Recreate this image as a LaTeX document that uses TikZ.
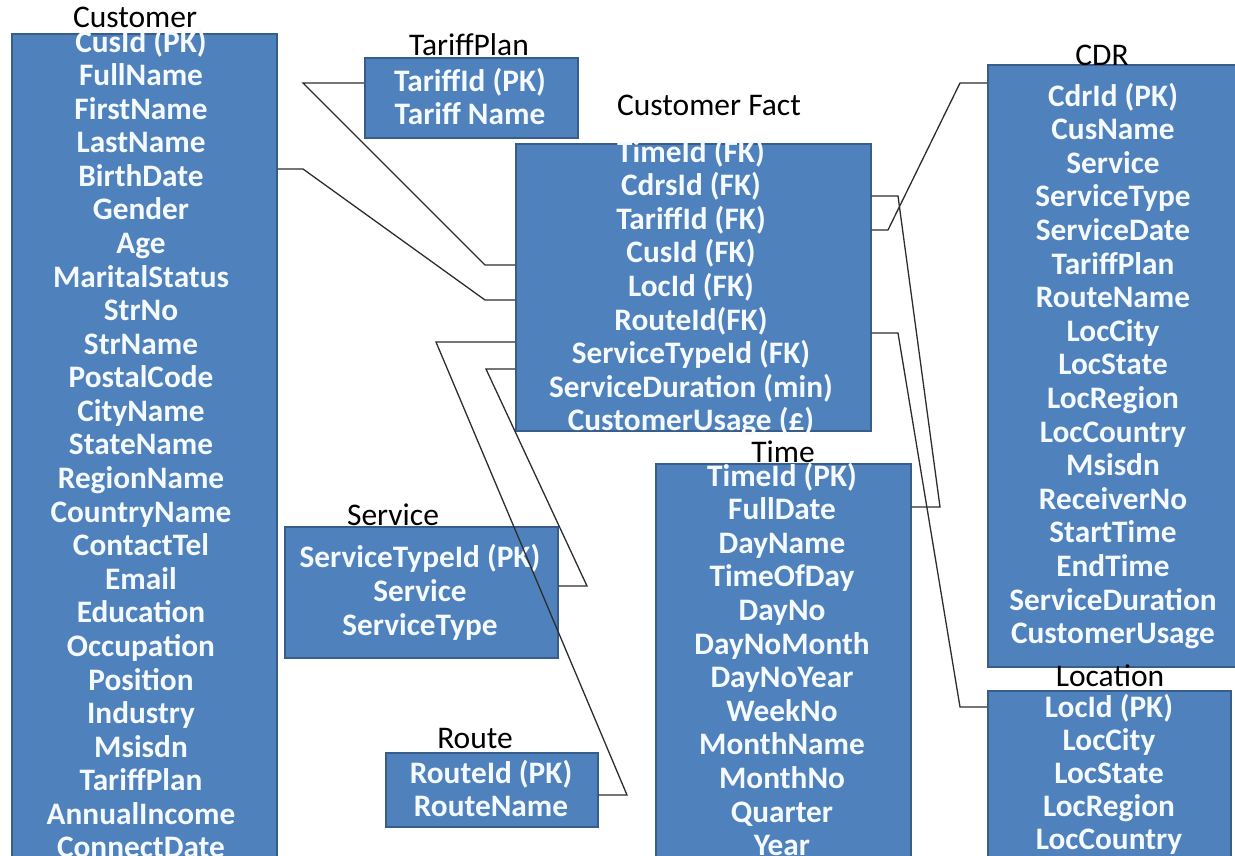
\documentclass[tikz,border=0pt]{standalone}
\usepackage{fontspec}
\setmainfont{Carlito}
\definecolor{boxfill}{RGB}{79,129,189}
\definecolor{boxline}{RGB}{56,93,138}
\definecolor{wirecol}{RGB}{45,45,45}
\definecolor{rowcol}{RGB}{245,250,255}
\begin{document}
\begin{tikzpicture}[x=1pt,y=-1pt,
  tbl/.style={draw=boxline, line width=1.5pt, fill=boxfill, rectangle, anchor=north west, inner sep=0pt},
  rowtxt/.style={text=rowcol, font=\bfseries\fontsize{31.3}{33}\selectfont, anchor=base, inner sep=0pt},
  ttl/.style={text=black, font=\fontsize{31.5}{33}\selectfont, anchor=base, inner sep=0pt},
  wire/.style={draw=wirecol, line width=1.3pt}]
\useasboundingbox (0,0) rectangle (1235,855);

% tables
\node[tbl, minimum width=265, minimum height=850] (customer) at (11,33) {};
\node[tbl, minimum width=213, minimum height=80] (tariff) at (364,57) {};
\node[tbl, minimum width=355, minimum height=287] (fact) at (515,143) {};
\node[tbl, minimum width=255, minimum height=602] (cdr) at (987,64) {};
\node[tbl, minimum width=243, minimum height=200] (location) at (987,690) {};
\node[tbl, minimum width=255, minimum height=420] (time) at (655,463) {};
\node[tbl, minimum width=273, minimum height=131] (service) at (284,526) {};
\node[tbl, minimum width=212, minimum height=74] (route) at (385,752) {};

% titles
\node[ttl] (customerT) at (135,27) {Customer};
\node[ttl] (tariffT) at (469,55) {TariffPlan};
\node[ttl] (factT) at (709,115) {Customer Fact};
\node[ttl] (cdrT) at (1102,65) {CDR};
\node[ttl] (locationT) at (1110,686) {Location};
\node[ttl] (timeT) at (783,462) {Time};
\node[ttl] (serviceT) at (393,525) {Service};
\node[ttl] (routeT) at (475,748) {Route};

% rows
\foreach \t [count=\i from 0] in {CusId (PK),FullName,FirstName,LastName,BirthDate,Gender,Age,MaritalStatus,StrNo,StrName,PostalCode,CityName,StateName,RegionName,CountryName,ContactTel,Email,Education,Occupation,Position,Industry,Msisdn,TariffPlan,AnnualIncome,ConnectDate}
  \node[rowtxt] (cu\i) at (141,{52+33.58*\i}) {\t};
\foreach \t [count=\i from 0] in {TariffId (PK),Tariff Name}
  \node[rowtxt] (tp\i) at (470,{91+33*\i}) {\t};
\foreach \t [count=\i from 0] in {TimeId (FK),CdrsId (FK),TariffId (FK),CusId (FK),LocId (FK),RouteId(FK),ServiceTypeId (FK),ServiceDuration (min),CustomerUsage (£)}
  \node[rowtxt] (cf\i) at (691,{162+33.6*\i}) {\t};
\foreach \t [count=\i from 0] in {CdrId (PK),CusName,Service,ServiceType,ServiceDate,TariffPlan,RouteName,LocCity,LocState,LocRegion,LocCountry,Msisdn,ReceiverNo,StartTime,EndTime,ServiceDuration,CustomerUsage}
  \node[rowtxt] (cd\i) at (1113,{106+33.6*\i}) {\t};
\foreach \t [count=\i from 0] in {LocId (PK),LocCity,LocState,LocRegion,LocCountry}
  \node[rowtxt] (lo\i) at (1109,{717+33.2*\i}) {\t};
\foreach \t [count=\i from 0] in {TimeId (PK),FullDate,DayName,TimeOfDay,DayNo,DayNoMonth,DayNoYear,WeekNo,MonthName,MonthNo,Quarter,Year}
  \node[rowtxt] (ti\i) at (782,{486+33.6*\i}) {\t};
\foreach \t [count=\i from 0] in {ServiceTypeId (PK),Service,ServiceType}
  \node[rowtxt] (se\i) at (420,{567+34*\i}) {\t};
\foreach \t [count=\i from 0] in {RouteId (PK),RouteName}
  \node[rowtxt] (ro\i) at (491,{783+33*\i}) {\t};

% connectors
\coordinate (t1) at (303,83); \coordinate (t2) at (485,265);
\draw[wire] (tariff.west |- t1) -- (t1) -- (t2) -- (fact.west |- t2);
\coordinate (c1) at (303,169); \coordinate (c2) at (485,300);
\draw[wire] (customer.east |- c1) -- (c1) -- (c2) -- (fact.west |- c2);
\coordinate (r1) at (436,342); \coordinate (r2) at (627,795);
\draw[wire] (fact.west |- r1) -- (r1) -- (r2) -- (route.east |- r2);
\coordinate (s1) at (486,369); \coordinate (s2) at (587,586);
\draw[wire] (fact.west |- s1) -- (s1) -- (s2) -- (service.east |- s2);
\coordinate (d1) at (888,230); \coordinate (d2) at (960,83);
\draw[wire] (fact.east |- d1) -- (d1) -- (d2) -- (cdr.west |- d2);
\coordinate (m1) at (898,196); \coordinate (m2) at (940,507);
\draw[wire] (fact.east |- m1) -- (m1) -- (m2) -- (time.east |- m2);
\coordinate (l1) at (898,333); \coordinate (l2) at (960,707);
\draw[wire] (fact.east |- l1) -- (l1) -- (l2) -- (location.west |- l2);
\end{tikzpicture}
\end{document}
